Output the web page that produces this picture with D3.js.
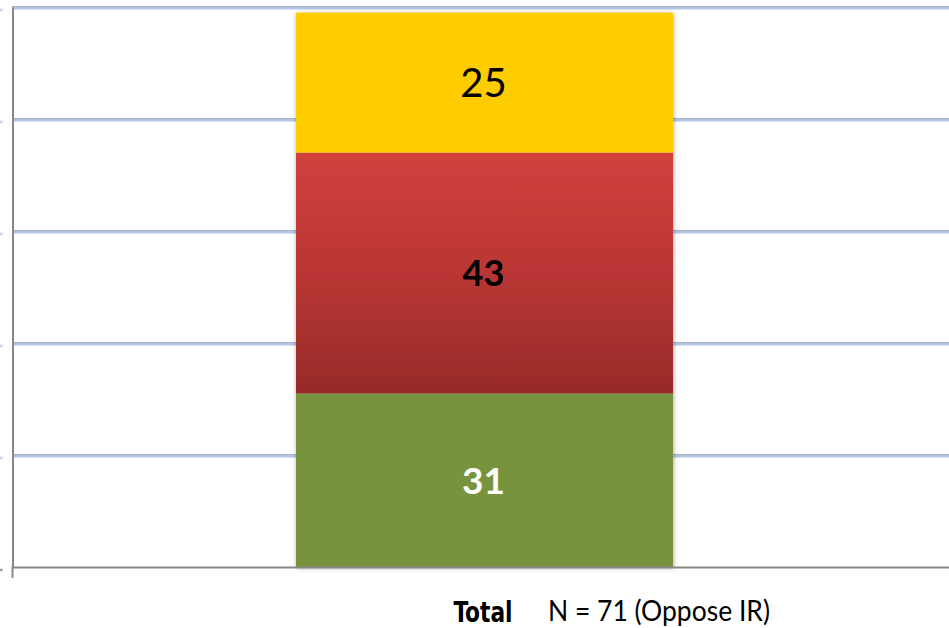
<!DOCTYPE html>
<html>
<head>
<meta charset="utf-8">
<script src="https://cdn.jsdelivr.net/npm/d3@7"></script>
<style>
  html, body { margin: 0; padding: 0; background: #ffffff; }
  svg { display: block; }
</style>
</head>
<body>
<svg id="chart" width="949" height="628"></svg>
<script>
// Stacked share chart: one column, three stacked segments (bottom to top)
const categories = ["Total"];
const seriesKeys = ["lower", "middle", "upper"];
const lowerValues = [31];
const middleValues = [43];
const upperValues = [25];
const yTicks = [0, 20, 40, 60, 80, 100];
const noteText = "N = 71 (Oppose IR)";

const rows = categories.map((c, i) => ({
  category: c,
  lower: lowerValues[i],
  middle: middleValues[i],
  upper: upperValues[i]
}));

const W = 949, H = 628;
const plot = { left: 12, right: 957, top: 7, bottom: 567 };

const svg = d3.select("#chart");

const y = d3.scaleLinear().domain([0, 100]).range([plot.bottom, plot.top]);
const x = d3.scaleBand()
  .domain(categories)
  .range([plot.left, plot.right])
  .paddingInner(0)
  .paddingOuter(0.7533);

const defs = svg.append("defs");
const grad = defs.append("linearGradient")
  .attr("id", "midFill").attr("x1", 0).attr("y1", 0).attr("x2", 0).attr("y2", 1);
grad.append("stop").attr("offset", "0%").attr("stop-color", "#d2403e");
grad.append("stop").attr("offset", "50%").attr("stop-color", "#b93634");
grad.append("stop").attr("offset", "100%").attr("stop-color", "#972b2a");

const shadow = defs.append("filter").attr("id", "barShadow")
  .attr("x", "-5%").attr("y", "-5%").attr("width", "110%").attr("height", "110%");
shadow.append("feDropShadow")
  .attr("dx", 0.5).attr("dy", 1).attr("stdDeviation", 2.2)
  .attr("flood-color", "#000").attr("flood-opacity", 0.38);

const fills = { lower: "#77933c", middle: "url(#midFill)", upper: "#ffcc00" };

// Gridlines: grey hairline with a pale blue band underneath
const gridTicks = yTicks.filter(t => t > 0);
svg.append("g")
  .attr("transform", `translate(${plot.left},-1)`)
  .call(d3.axisLeft(y).tickValues(gridTicks).tickSize(-(W - plot.left)).tickFormat(""))
  .call(g => g.select(".domain").remove())
  .call(g => g.selectAll("line").attr("stroke", "#a7b0c0").attr("stroke-width", 1));
svg.append("g")
  .attr("transform", `translate(${plot.left},0.8)`)
  .call(d3.axisLeft(y).tickValues(gridTicks).tickSize(-(W - plot.left)).tickFormat(""))
  .call(g => g.select(".domain").remove())
  .call(g => g.selectAll("line").attr("stroke", "#b4c6e8").attr("stroke-width", 2.4));

// Left-edge tick stubs
svg.append("g")
  .attr("transform", `translate(2.5,2.5)`)
  .call(d3.axisLeft(y).tickValues(yTicks).tickSize(3).tickFormat(""))
  .call(g => g.select(".domain").remove())
  .call(g => g.selectAll("line")
    .attr("stroke", d => d === 0 ? "#9a9a9a" : "#c3cfe6")
    .attr("stroke-width", 2.5));

// Stacked column
const stacked = d3.stack().keys(seriesKeys)(rows);
const barG = svg.append("g").attr("filter", "url(#barShadow)");
barG.selectAll("g.layer")
  .data(stacked)
  .join("g")
  .attr("class", "layer")
  .selectAll("rect")
  .data(d => d.map(p => ({ key: d.key, p })))
  .join("rect")
  .attr("x", d => x(d.p.data.category))
  .attr("width", x.bandwidth())
  .attr("y", d => y(d.p[1]))
  .attr("height", d => y(d.p[0]) - y(d.p[1]))
  .attr("fill", d => fills[d.key]);

// Segment value labels
const labelStyle = {
  lower: { size: 37, weight: 700, color: "#ffffff" },
  middle: { size: 36, weight: 700, color: "#000000" },
  upper: { size: 40, weight: 400, color: "#000000" }
};
const labels = [];
stacked.forEach(layer => layer.forEach(p => labels.push({ key: layer.key, p })));
svg.append("g").selectAll("text")
  .data(labels)
  .join("text")
  .attr("x", d => x(d.p.data.category) + x.bandwidth() / 2 - 1)
  .attr("y", d => (y(d.p[0]) + y(d.p[1])) / 2 + labelStyle[d.key].size * 0.36)
  .attr("text-anchor", "middle")
  .attr("font-family", "Lato, 'Open Sans', sans-serif")
  .attr("font-size", d => labelStyle[d.key].size)
  .attr("font-weight", d => labelStyle[d.key].weight)
  .attr("fill", d => labelStyle[d.key].color)
  .text(d => d.p.data[d.key]);

// Axes
svg.append("g")
  .attr("transform", `translate(${plot.left + 0.5},0)`)
  .call(d3.axisLeft(y).tickValues([]).tickSizeOuter(0))
  .call(g => g.select(".domain").attr("stroke", "#878787").attr("stroke-width", 2));

const xAxis = svg.append("g")
  .attr("transform", `translate(0,${plot.bottom})`)
  .call(d3.axisBottom(x).tickSizeInner(0).tickSizeOuter(11));
xAxis.select(".domain").attr("stroke", "#878787").attr("stroke-width", 2);
xAxis.selectAll(".tick text")
  .attr("dy", null)
  .attr("y", 55)
  .attr("x", -1.5)
  .attr("fill", "#000")
  .attr("font-family", "'Liberation Sans Narrow', 'DejaVu Sans Condensed', 'Liberation Sans', sans-serif")
  .attr("font-size", 28)
  .attr("font-weight", 700)
  .attr("textLength", 59)
  .attr("lengthAdjust", "spacingAndGlyphs");

svg.append("text")
  .attr("x", 548)
  .attr("y", 621)
  .attr("font-family", "Lato, 'Open Sans', sans-serif")
  .attr("font-size", 28)
  .attr("fill", "#000")
  .attr("textLength", 222)
  .attr("lengthAdjust", "spacingAndGlyphs")
  .text(noteText);
</script>
</body>
</html>
